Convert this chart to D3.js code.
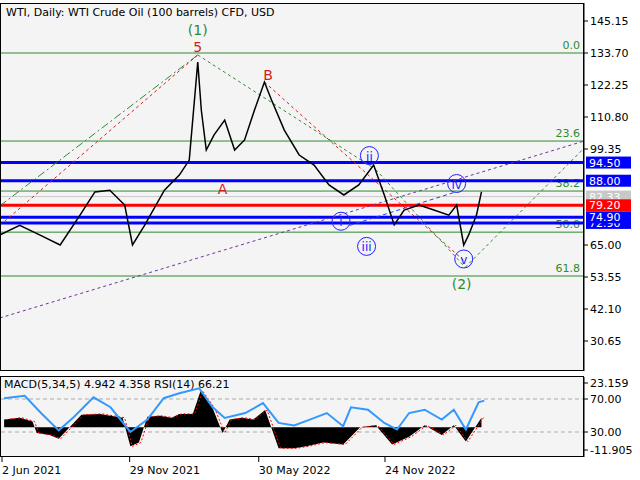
<!DOCTYPE html>
<html><head><meta charset="utf-8">
<script src="https://cdn.jsdelivr.net/npm/d3@7"></script>
<style>body{margin:0;background:#fff}text{font-family:Tahoma,"DejaVu Sans",sans-serif}</style>
</head><body><div id="chart"></div>
<script>
// days since 2 Jun 2021 + closes
const priceDays = [-3,25,53,82,110,131,152,173,184,201,229,250,264,276,281,288,299,314,328,342,356,370,380,398,419,440,461,482,503,524,539,553,567,588,609,630,641,651,658,669,676];
const priceVals = [68.6,72,68.6,65,75.7,84,84.6,79.3,65,72,84.6,90,95.4,130.5,113.3,99,104.4,109.7,99,102.6,113.3,123.3,116.9,106.1,97.2,93.6,86.5,82.9,86.5,93.6,82.9,72.2,77.5,79.3,77.5,75.7,79.3,65,68.6,75.7,84];
const macdDays = [3,25,43,49,67,80,112,138,170,181,193,205,222,239,250,269,280,297,311,321,338,354,371,390,412,429,453,481,505,527,550,574,596,620,637,654,676];
const macdVals = [4,5,3,-3,-4,-6,6.5,7,5,-10,-8,5.5,6,5,7,7,19,10,-3,4,5,4,9,-11,-11,-10,-8,-9,0,1,-9,-5,1,-4,1,-7.5,5];
const rsiDays = [3,32,55,80,101,129,153,181,205,228,250,278,297,314,343,368,390,412,434,458,481,492,516,539,557,574,596,620,637,654,672,680];
const rsiVals = [71,74,53,32,48,72,60,30,45,71,77,83,60,47,53,65,41,38,45,53,37,60,57,41,33,53,57,45,57,33,66,68];
const priceTicks = [145.15,133.70,122.25,110.80,99.35,65.00,53.55,42.10,30.65];
const dateTicks = ["2021-06-02","2021-11-29","2022-05-30","2022-11-24"];
// drawn in this order so overlapping tags stack like the original
const levels = [{v:82.33,c:"#c8c8c8",t:"82.33"},{v:72.9,c:"#0000ff",t:"72.90"},{v:74.9,c:"#0000ff",t:"74.90"},{v:79.2,c:"#ff0000",t:"79.20"},{v:88.0,c:"#0000ff",t:"88.00"},{v:94.5,c:"#0000ff",t:"94.50"}];
const fibLevels = [{v:133.7,t:"0.0"},{v:102.2,t:"23.6"},{v:84.3,t:"38.2"},{v:69.6,t:"50.0"},{v:53.9,t:"61.8"}];

const t0 = new Date(2021,5,2);
const dt = d => d3.timeDay.offset(t0, d);
const W = 640, H = 480;
const svg = d3.select("#chart").append("svg").attr("width",W).attr("height",H);
svg.append("rect").attr("width",W).attr("height",H).attr("fill","#fff");

const x = d3.scaleTime().domain([new Date(2021,5,2), new Date(2022,10,24)]).range([2,385]);
const y = d3.scaleLinear().domain([53.55,145.15]).range([277,21]);
const ym = d3.scaleLinear().domain([-11.905,23.159]).range([450,383]);
const yr = d3.scaleLinear().domain([30,70]).range([432,399]);

svg.append("rect").attr("x",0.5).attr("y",3.5).attr("width",583).attr("height",367).attr("fill","#f4f4f4").attr("stroke","#000");
svg.append("rect").attr("x",0.5).attr("y",376.5).attr("width",583).attr("height",80).attr("fill","#f4f4f4").attr("stroke","#000");

const main = svg.append("g");
main.append("clipPath").attr("id","cp").append("rect").attr("x",1).attr("y",4).attr("width",582).attr("height",366);
const g = main.append("g").attr("clip-path","url(#cp)");

fibLevels.forEach(f=>{
  g.append("line").attr("x1",0).attr("x2",583).attr("y1",y(f.v)).attr("y2",y(f.v)).attr("stroke","#2e8b2e").attr("stroke-width",1);
  g.append("text").attr("x",580).attr("y",y(f.v)-4).attr("text-anchor","end").attr("font-size",11).attr("fill","#2e8b2e").text(f.t);
});
levels.forEach(l=>{
  g.append("line").attr("x1",0).attr("x2",583).attr("y1",y(l.v)).attr("y2",y(l.v)).attr("stroke",l.c).attr("stroke-width",l.c==="#c8c8c8"?1:3);
});
const seg = (a,b,c,dash)=>g.append("line").attr("x1",x(dt(a[0]))).attr("y1",y(a[1])).attr("x2",x(dt(b[0]))).attr("y2",y(b[1])).attr("stroke",c).attr("stroke-dasharray",dash).attr("stroke-width",1);
seg([-3,79],[276,133],"#2e8b2e","8,3,2,3");
seg([-3,72],[276,133],"#d02020","3,3");
seg([-3,38.9],[826,102.6],"#7030a0","3,3");
seg([276,133],[527,92],"#2e8b2e","3,3");
seg([370,123.3],[653,59],"#d02020","3,3");
seg([527,92],[653,57],"#2e8b2e","3,3");
seg([653,57],[826,101],"#2e8b2e","3,3");
seg([490,72],[640,84],"#2040ff","4,3");

g.append("path").datum(priceDays.map((d,i)=>[d,priceVals[i]]))
  .attr("d",d3.line().x(d=>x(dt(d[0]))).y(d=>y(d[1])))
  .attr("fill","none").attr("stroke","#000").attr("stroke-width",1.5);

const lab = (d,v,t,c,circ)=>{
  if(circ) g.append("circle").attr("cx",x(dt(d))).attr("cy",y(v)).attr("r",9).attr("fill","none").attr("stroke",c);
  g.append("text").attr("x",x(dt(d))).attr("y",y(v)+5).attr("text-anchor","middle").attr("font-size",circ?12:14).attr("fill",c).text(t);
};
lab(276,142,"(1)","#2e8b2e"); lab(276,136,"5","#d02020"); lab(375,126,"B","#d02020"); lab(311,85,"A","#d02020");
lab(518,97,"ii","#2020ff",true); lab(478,73.5,"i","#2020ff",true); lab(514,64.5,"iii","#2020ff",true);
lab(641,87,"iv","#2020ff",true); lab(651,60,"v","#2020ff",true); lab(648,51,"(2)","#2e8b2e");
svg.append("text").attr("x",6).attr("y",16).attr("font-size",11).text("WTI, Daily:  WTI Crude Oil (100 barrels) CFD, USD");

const ax = svg.append("g").attr("transform","translate(584,0)");
ax.append("line").attr("y1",3).attr("y2",371).attr("stroke","#000");
priceTicks.forEach(v=>{
  ax.append("line").attr("x2",4).attr("y1",y(v)).attr("y2",y(v)).attr("stroke","#000");
  ax.append("text").attr("x",6).attr("y",y(v)+4).attr("font-size",11).text(v.toFixed(2));
});
levels.forEach(l=>{
  ax.append("rect").attr("x",2).attr("y",y(l.v)-6).attr("width",45).attr("height",12).attr("fill",l.c);
  ax.append("text").attr("x",5).attr("y",y(l.v)+4).attr("font-size",11).attr("fill","#fff").text(l.t);
});

const lo = svg.append("g");
[70,30].forEach(v=>lo.append("line").attr("x1",1).attr("x2",583).attr("y1",yr(v)).attr("y2",yr(v)).attr("stroke","#aaa").attr("stroke-dasharray","4,3"));
const macd = macdDays.map((d,i)=>[d,macdVals[i]]);
lo.append("path").datum(macd).attr("d",d3.area().x(d=>x(dt(d[0]))).y0(ym(0)).y1(d=>ym(d[1]))).attr("fill","#000");
lo.append("path").datum(macd).attr("d",d3.line().x(d=>x(dt(d[0]))+2).y(d=>ym(d[1]))).attr("fill","none").attr("stroke","#ff0000").attr("stroke-dasharray","2,2");
lo.append("path").datum(rsiDays.map((d,i)=>[d,rsiVals[i]])).attr("d",d3.line().x(d=>x(dt(d[0]))).y(d=>yr(d[1]))).attr("fill","none").attr("stroke","#3399ff").attr("stroke-width",2);
lo.append("text").attr("x",4).attr("y",388).attr("font-size",11).text("MACD(5,34,5) 4.942 4.358 RSI(14) 66.21");
const ax2 = svg.append("g").attr("transform","translate(584,0)");
ax2.append("line").attr("y1",377).attr("y2",457).attr("stroke","#000");
[[ym(23.159),"23.159"],[yr(70),"70.00"],[yr(30),"30.00"],[ym(-11.905),"-11.905"]].forEach(([p,t])=>{
  ax2.append("line").attr("x2",4).attr("y1",p).attr("y2",p).attr("stroke","#000");
  ax2.append("text").attr("x",6).attr("y",p+4).attr("font-size",11).text(t);
});

const xa = svg.append("g").attr("transform","translate(0,457)");
dateTicks.forEach(s=>{
  const p = x(d3.timeParse("%Y-%m-%d")(s));
  xa.append("line").attr("x1",p).attr("x2",p).attr("y2",5).attr("stroke","#000");
  xa.append("text").attr("x",p).attr("y",17).attr("font-size",11).text(d3.timeFormat("%-d %b %Y")(d3.timeParse("%Y-%m-%d")(s)));
});
</script></body></html>
